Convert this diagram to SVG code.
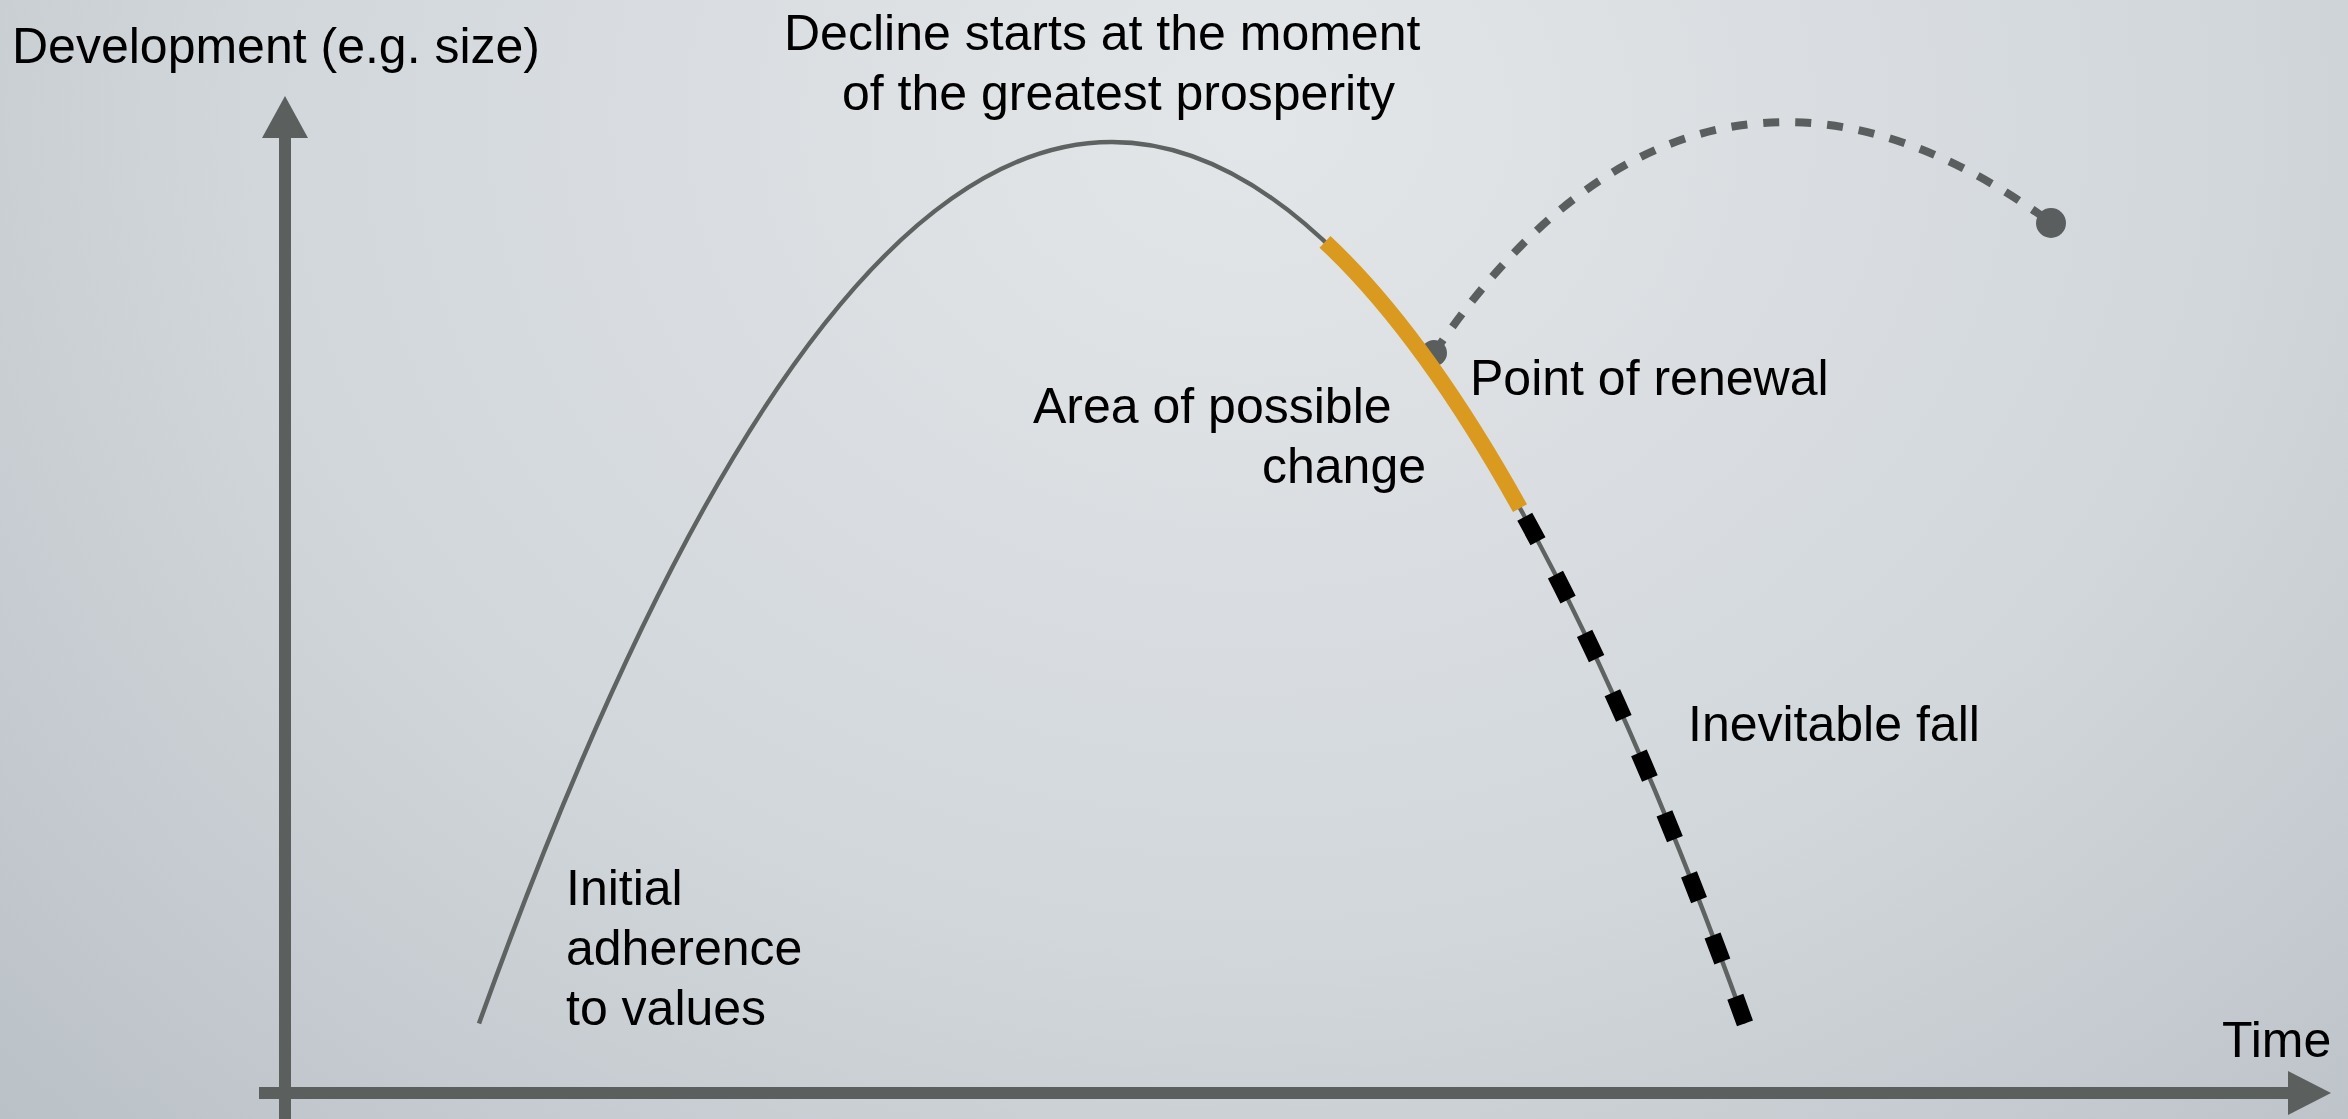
<svg xmlns="http://www.w3.org/2000/svg" width="2348" height="1119" viewBox="0 0 2348 1119">
  <defs>
    <radialGradient id="bg" gradientUnits="userSpaceOnUse" cx="1250" cy="120" r="1500" gradientTransform="translate(1250 120) scale(1.2 1) translate(-1250 -120)">
      <stop offset="0" stop-color="#e3e6e9"/>
      <stop offset="0.55" stop-color="#d2d7db"/>
      <stop offset="1" stop-color="#b8bfc5"/>
    </radialGradient>
    <style>
      .label { font-family: "Liberation Sans", Arial, Helvetica, sans-serif; font-size: 50px; fill: #000; }
      .axis { stroke: #5b5f5e; stroke-width: 12; fill: none; }
      .head { fill: #5b5f5e; }
      .curve { stroke: #5e6261; stroke-width: 4.5; fill: none; }
      .change { stroke: #da9a1f; stroke-width: 16; fill: none; }
      .fall { stroke: #000; stroke-width: 17; fill: none; stroke-dasharray: 28 37.6; stroke-dashoffset: 55.6; }
      .renewal { stroke: #5a5e5e; stroke-width: 8; fill: none; stroke-dasharray: 16 16; }
      .dot { fill: #5a5e5e; }
    </style>
  </defs>

  <rect width="2348" height="1119" fill="url(#bg)"/>

  <!-- axes -->
  <g id="axes">
    <line class="axis" x1="285" y1="136" x2="285" y2="1119"/>
    <polygon class="head" points="285,96 262,138 308,138"/>
    <line class="axis" x1="259" y1="1093" x2="2290" y2="1093"/>
    <polygon class="head" points="2331,1093 2288,1071 2288,1115"/>
  </g>

  <!-- development curve and its phases -->
  <g id="connectors">
    <path id="life-curve" class="curve" d="M479,1023.5 Q1112,-739.5 1745,1023.5"/>
    <circle id="renewal-point" class="dot" cx="1434" cy="353" r="13"/>
    <path id="change-area" class="change" d="M1325,241.8 Q1422.5,333.2 1520,508.2"/>
    <path id="fall" class="fall" d="M1520,508.2 Q1632.5,710.2 1745,1023.5"/>
    <path id="renewal-path" class="renewal" d="M1434,353 C1620,79 1838,67 2050,222"/>
    <circle id="renewal-end" class="dot" cx="2051" cy="223" r="15"/>
  </g>

  <!-- labels -->
  <g id="label-y-axis">
    <text class="label" x="12" y="63">Development (e.g. size)</text>
  </g>
  <g id="label-peak">
    <text class="label" x="784" y="50">Decline starts at the moment</text>
    <text class="label" x="842" y="110">of the greatest prosperity</text>
  </g>
  <g id="label-renewal">
    <text class="label" x="1470" y="395">Point of renewal</text>
  </g>
  <g id="label-change">
    <text class="label" x="1033" y="423">Area of possible</text>
    <text class="label" x="1262" y="483">change</text>
  </g>
  <g id="label-fall">
    <text class="label" x="1688" y="741">Inevitable fall</text>
  </g>
  <g id="label-start">
    <text class="label" x="566" y="905">Initial</text>
    <text class="label" x="566" y="965">adherence</text>
    <text class="label" x="566" y="1025">to values</text>
  </g>
  <g id="label-x-axis">
    <text class="label" x="2222" y="1057">Time</text>
  </g>
</svg>
